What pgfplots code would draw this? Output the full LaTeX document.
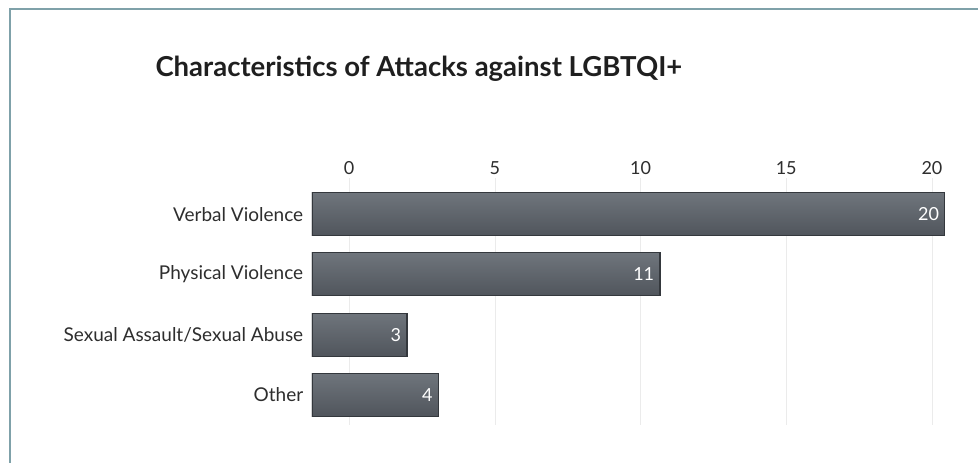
\documentclass[border=0pt]{standalone}
\usepackage{pgfplots}
\pgfplotsset{compat=1.18}
\usepackage{fontspec}
\setmainfont{Lato}
\definecolor{framec}{HTML}{7FA1A9}
\definecolor{barTop}{HTML}{6F757C}
\definecolor{barBot}{HTML}{50555C}
\definecolor{barEdge}{HTML}{34383D}
\definecolor{txt}{HTML}{2E2E2E}
\pgfplotsset{mybar/.style={xbar, top color=barTop, bottom color=barBot, draw=barEdge, line width=1.2pt}}
\begin{document}
\begin{tikzpicture}[x=1pt,y=1pt]
\path[use as bounding box, fill=white] (0,0) rectangle (978,463);
\draw[framec, line width=2pt] (9.5,0) -- (9.5,454) -- (978,454);
\node[anchor=base west, font=\bfseries\fontsize{27.5}{32}\selectfont, text=black!88] at (152,386) {Characteristics of Attacks against LGBTQI+};
% tick / grid axis (perspective of the reference)
\begin{axis}[
  at={(312pt,38pt)}, anchor=south west,
  scale only axis, width=643pt, height=247pt,
  xmin=-1.27, xmax=20.79, ymin=0, ymax=1,
  hide y axis,
  axis x line*=top,
  x axis line style={draw=none},
  xtick={0,5,10,15,20},
  xtick style={draw=none},
  xmajorgrids, grid style={black!8},
  xticklabel style={font=\fontsize{18}{20}\selectfont, text=txt},
  /pgf/number format/assume math mode=true,
]
\addplot[draw=none] coordinates {(0,0)};
\end{axis}
% bar axis
\begin{axis}[
  at={(312pt,32pt)}, anchor=south west,
  scale only axis, width=643pt, height=253pt,
  xmin=0, xmax=20.32, ymin=-0.6, ymax=3.6,
  hide x axis,
  axis y line*=left,
  y axis line style={draw=none},
  ytick={0,1,2,3},
  yticklabels={Other,Sexual Assault/Sexual Abuse,Physical Violence,Verbal Violence},
  ytick style={draw=none},
  yticklabel style={font=\fontsize{19}{22}\selectfont, text=txt, xshift=-1pt},
  xbar, bar width=43pt, bar shift=0pt,
  nodes near coords,
  nodes near coords style={anchor=east, text=white, font=\fontsize{18}{20}\selectfont, xshift=-2pt},
  /pgf/number format/assume math mode=true,
]
\addplot[mybar] coordinates {(20,3)};
\addplot[mybar] coordinates {(11,2)};
\addplot[mybar] coordinates {(3,1)};
\addplot[mybar] coordinates {(4,0)};
\end{axis}
\end{tikzpicture}
\end{document}
